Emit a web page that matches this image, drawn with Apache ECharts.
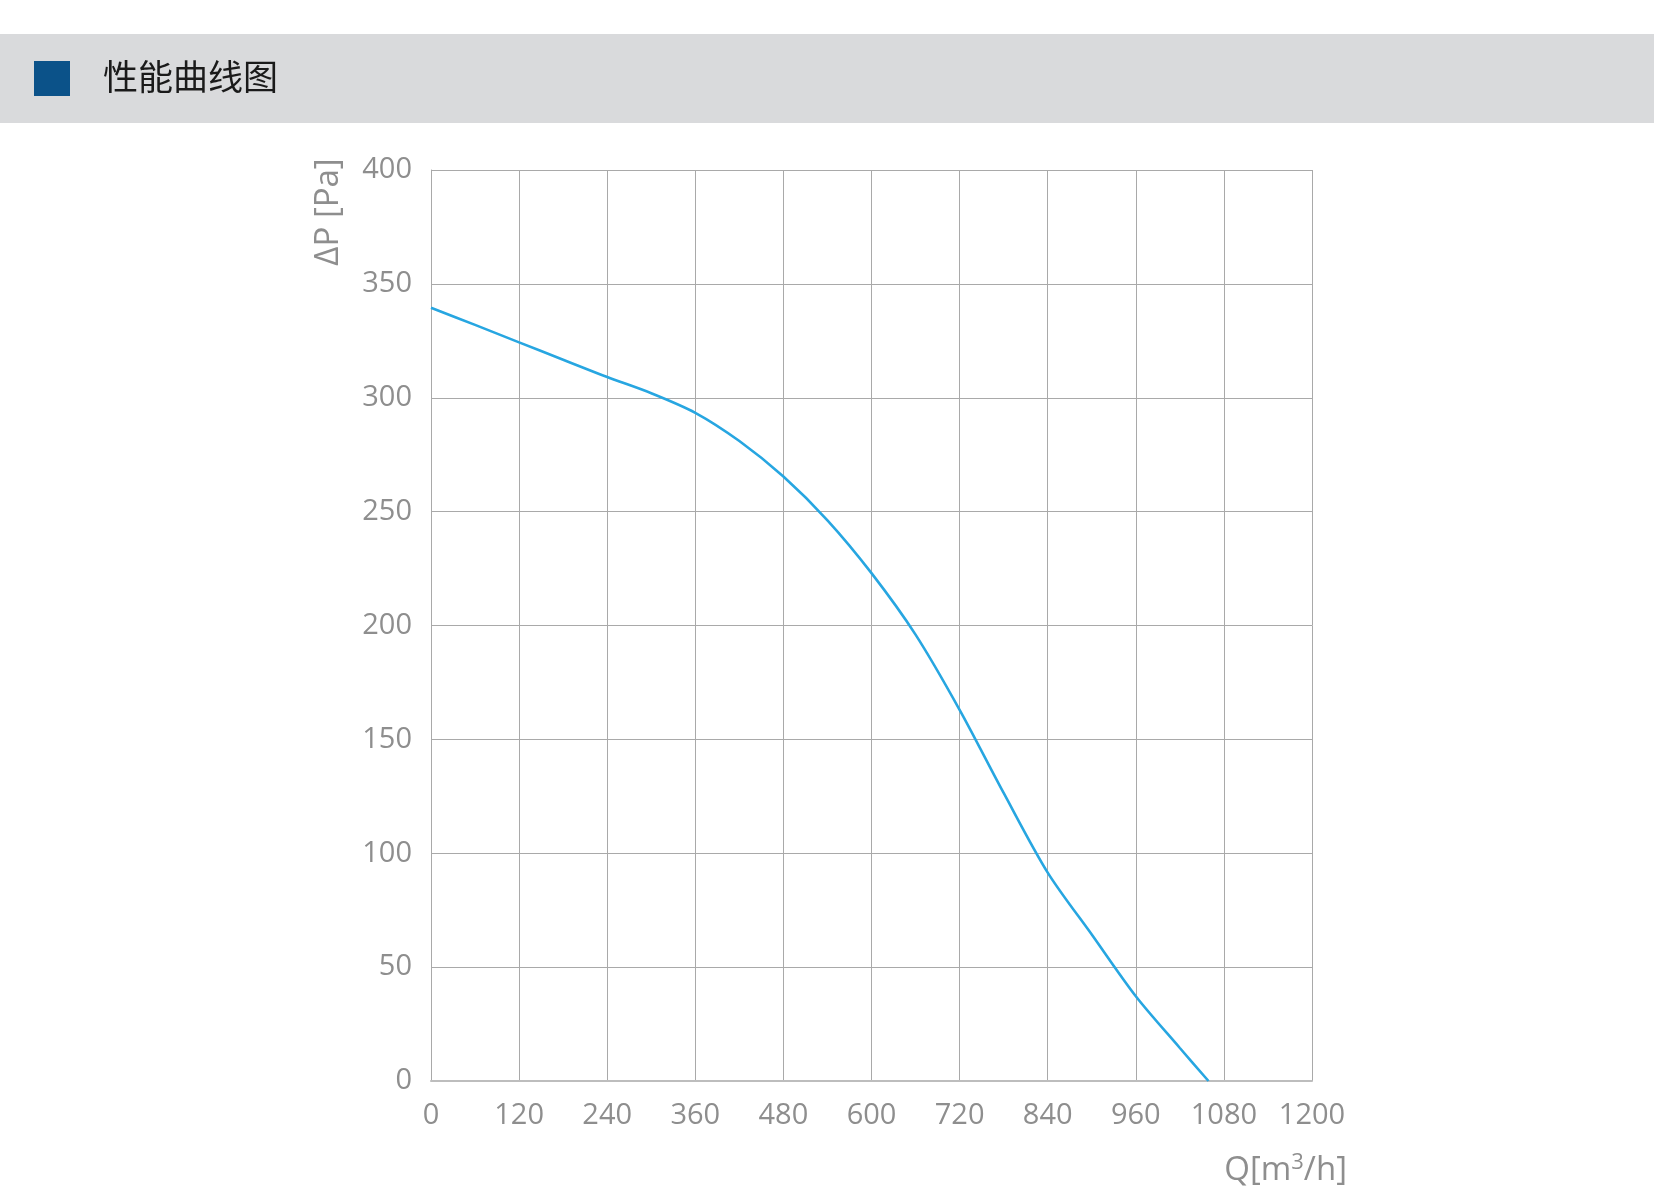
<!DOCTYPE html>
<html>
<head>
<meta charset="utf-8">
<script src="https://cdn.jsdelivr.net/npm/echarts@6/dist/echarts.min.js"></script>
<style>
html,body{margin:0;padding:0;background:#fff;}
#chart{width:1654px;height:1199px;}
</style>
</head>
<body>
<div id="chart"></div>
<script>
// Data (Q in m3/h, ΔP in Pa)
var flowQ =     [0,     60,  120,   180,   240,   300, 360,   420, 480,   540,   600, 660, 720, 780,   840,  900,  960,  1020, 1059];
var pressureP = [339.5, 332, 324.3, 316.7, 309.1, 302, 293.4, 281, 265.4, 246.2, 223, 196, 163, 126.5, 91.5, 64.3, 37.2, 14.5, 0];
var xTicks = [0,120,240,360,480,600,720,840,960,1080,1200];
var yTicks = [0,50,100,150,200,250,300,350,400];
var titleText = '性能曲线图';
var yName = 'ΔP [Pa]';

var points = flowQ.map(function(q, i){ return [q, pressureP[i]]; });

var chart = echarts.init(document.getElementById('chart'), null, {renderer:'canvas'});
var labelColor = '#8e8e8e';
var gridColor = '#a9a9a9';
var font = '"Open Sans", "Noto Sans", sans-serif';

chart.setOption({
  animation:false,
  backgroundColor:'#ffffff',
  grid:{left:431, right:342, top:170, bottom:118, containLabel:false},
  xAxis:{
    type:'value', min:xTicks[0], max:xTicks[xTicks.length-1], interval:120,
    axisLine:{show:true, lineStyle:{color:'#bdbdbd', width:2}},
    axisTick:{show:false},
    splitLine:{show:true, lineStyle:{color:gridColor, width:1}},
    axisLabel:{color:labelColor, fontSize:29, fontFamily:font, margin:20,
      formatter:function(v){ return String(v); }},
    name:'Q[m{sup|3}/h]',
    nameLocation:'end',
    nameGap:0,
    nameTextStyle:{
      color:labelColor, fontSize:33, fontFamily:font,
      align:'right', verticalAlign:'top',
      padding:[71, -35, 0, 0],
      rich:{sup:{fontSize:22, fontFamily:font, color:labelColor, verticalAlign:'top', padding:[0,0,16,0]}}
    }
  },
  yAxis:{
    type:'value', min:yTicks[0], max:yTicks[yTicks.length-1], interval:50,
    axisLine:{show:true, lineStyle:{color:gridColor, width:1}},
    axisTick:{show:false},
    splitLine:{show:true, lineStyle:{color:gridColor, width:1}},
    axisLabel:{color:labelColor, fontSize:29, fontFamily:font, margin:19,
      formatter:function(v){ return String(v); }}
  },
  graphic:[
    {type:'rect', left:0, top:34, shape:{width:1654, height:89}, style:{fill:'#d9dadc'}, silent:true},
    {type:'rect', left:34, top:61, shape:{width:36, height:35}, style:{fill:'#0b5289'}, silent:true},
    {type:'text', left:103, top:59, style:{text:titleText, fill:'#1a1a1a', fontSize:35, fontFamily:'"Noto Sans CJK SC", sans-serif'}},
    {type:'text', x:329, y:212, rotation:Math.PI/2,
      style:{text:yName, fill:labelColor, fontSize:33, fontFamily:font, align:'center', verticalAlign:'middle'}}
  ],
  series:[{
    type:'line',
    data:points,
    smooth:0.3,
    symbol:'none',
    lineStyle:{color:'#27a6e1', width:2.6},
    z:5
  }]
});
</script>
</body>
</html>
